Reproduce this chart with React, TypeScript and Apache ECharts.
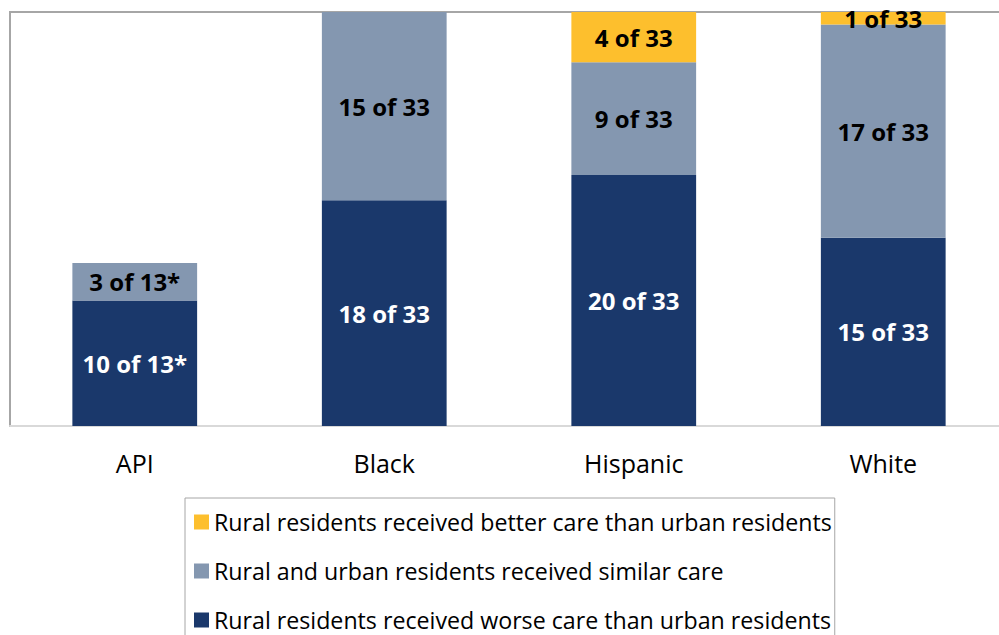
import React, { useEffect, useRef } from "react";
import * as echarts from "echarts";

const categories = ["API", "Black", "Hispanic", "White"];
const worseCare = [10, 18, 20, 15];
const similarCare = [3, 15, 9, 17];
const betterCare = [null, null, 4, 1];
const totals = [13, 33, 33, 33];
const notes = ["*", "", "", ""];

const seriesNames = [
  "Rural residents received better care than urban residents",
  "Rural and urban residents received similar care",
  "Rural residents received worse care than urban residents",
];

const FONT = "'Open Sans', sans-serif";

export default function App() {
  const ref = useRef<HTMLDivElement>(null);
  useEffect(() => {
    document.body.style.margin = "0";
    const chart = echarts.init(ref.current!, null, { renderer: "svg" });
    const label = (color: string) => ({
      show: true,
      position: "inside",
      color,
      fontSize: 24,
      fontWeight: "bold",
      fontFamily: FONT,
      formatter: (p: any) => `${p.value} of ${totals[p.dataIndex]}${notes[p.dataIndex]}`,
    });
    chart.setOption({
      animation: false,
      backgroundColor: "#ffffff",
      grid: {
        left: 10,
        top: 12,
        width: 998,
        height: 414,
        show: true,
        borderColor: "#a6a6a6",
        borderWidth: 2,
        containLabel: false,
      },
      legend: {
        orient: "vertical",
        left: 185,
        top: 498,
        height: 400,
        data: seriesNames,
        icon: "rect",
        itemWidth: 15,
        itemHeight: 15,
        itemGap: 23,
        itemTextGap: 7,
        padding: [11, 3, 12, 9],
        borderColor: "#a6a6a6",
        borderWidth: 1,
        textStyle: { fontSize: 23.2, fontFamily: FONT, color: "#000", lineHeight: 26 },
      },
      xAxis: {
        type: "category",
        data: categories,
        axisLine: { show: true, lineStyle: { color: "#d9d9d9", width: 2 } },
        axisTick: { show: false },
        axisLabel: { color: "#000", fontSize: 25, fontFamily: FONT, margin: 24 },
      },
      yAxis: {
        type: "value",
        min: 0,
        max: 33,
        show: false,
        splitLine: { show: false },
      },
      series: [
        {
          name: seriesNames[2],
          type: "bar",
          stack: "total",
          barWidth: "50%",
          data: worseCare,
          itemStyle: { color: "#1a386b" },
          label: label("#ffffff"),
        },
        {
          name: seriesNames[1],
          type: "bar",
          stack: "total",
          data: similarCare,
          itemStyle: { color: "#8497b0" },
          label: label("#000000"),
        },
        {
          name: seriesNames[0],
          type: "bar",
          stack: "total",
          data: betterCare,
          itemStyle: { color: "#fdbf2d" },
          label: label("#000000"),
        },
      ],
    });
    return () => chart.dispose();
  }, []);
  return (
    <div style={{ width: 999, height: 635, overflow: "hidden", position: "relative" }}>
      <div ref={ref} style={{ width: 1020, height: 660 }} />
    </div>
  );
}
